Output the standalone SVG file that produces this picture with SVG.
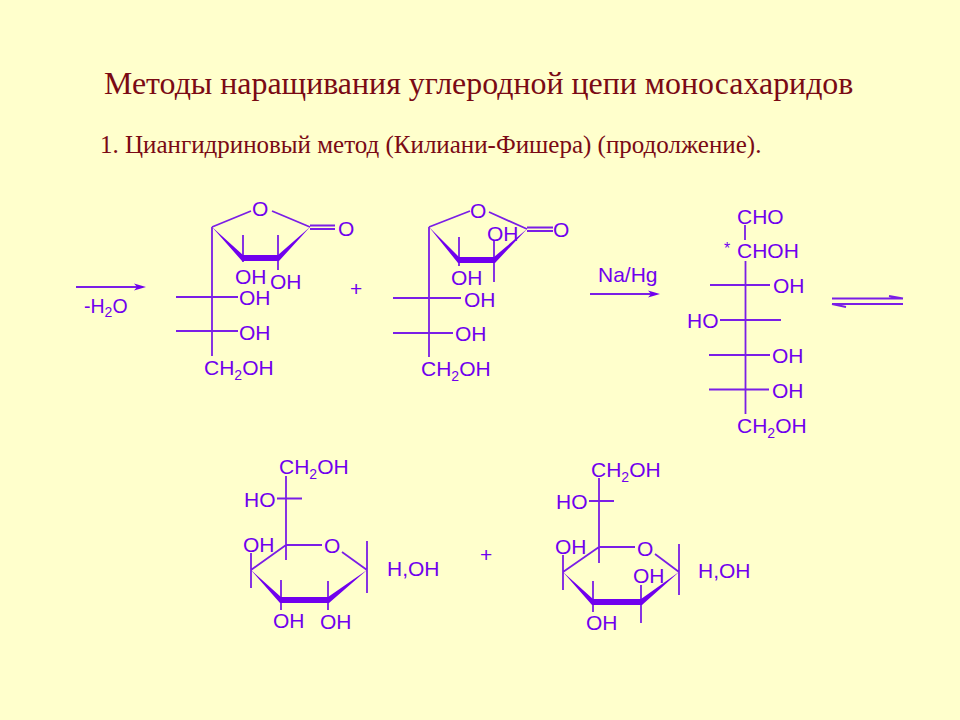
<svg xmlns="http://www.w3.org/2000/svg" width="960" height="720" viewBox="0 0 960 720">
<style>
.t{font-family:"Liberation Serif",serif;fill:#7a0a14}
.c{font-family:"Liberation Sans",Arial,sans-serif;font-size:21px;fill:#7000ee}
.b{stroke:#7a1ee6;stroke-width:1.8;fill:none}
.w{fill:#7000ee}
.s{font-size:14px}
.p{font-size:21px}
</style>
<rect width="960" height="720" fill="#ffffcc"/>
<text class="t" x="104" y="94" font-size="31.900">Методы наращивания углеродной цепи моносахаридов</text>
<text class="t" x="100" y="153" font-size="25">1. Циангидриновый метод (Килиани-Фишера) (продолжение).</text>

<g id="connectors">
<path class="b" d="M76 287H140"/><path class="w" d="M146 287l-12-3.500 3 3.500-3 3.500z"/>
<path class="b" d="M590 294H654"/><path class="w" d="M660 294l-12-3.500 3 3.500-3 3.500z"/>
<path class="b" d="M832 298.500H903M889 296L903 298.500M832 304H903M832 304L846 307"/>
</g>

<g id="lactone1">
<path class="b" d="M212 227V356M176 297H238M176 331H238M212 227L251 211M272 211L310 227M310 225.500H335M310 229H335M243 235V262M278 235V270"/>
<path class="w" d="M212 227L243 255H278L310 227L279 261H242Z"/>
<text class="c" x="235" y="284">OH</text><text class="c" x="270" y="289">OH</text><text class="c" x="239" y="305">OH</text><text class="c" x="239" y="340">OH</text>
<text class="c" x="252" y="216">O</text><text class="c" x="338" y="236">O</text>
<text class="c" x="204" y="375">CH<tspan class="s" dy="5">2</tspan><tspan dy="-5">OH</tspan></text>
</g>

<text id="plus1" class="c" x="350" y="296">+</text>

<g id="lactone2">
<path class="b" d="M429 227V357M393 298H461M393 333H453M429 227L470 211M489 212L527 229M527 227.500H553M527 231H553M459 237V266M494 240V282"/>
<path class="w" d="M429 227L459 257H494L527 229L495 263H458Z"/>
<text class="c" x="487" y="241">OH</text><text class="c" x="451" y="285">OH</text><text class="c" x="464" y="307">OH</text><text class="c" x="455" y="341">OH</text>
<text class="c" x="470" y="218">O</text><text class="c" x="553" y="237">O</text>
<text class="c" x="421" y="376">CH<tspan class="s" dy="5">2</tspan><tspan dy="-5">OH</tspan></text>
</g>

<text id="minusH2O" class="c" x="84" y="313" style="font-size:19.500px">-H<tspan class="s" dy="4">2</tspan><tspan dy="-4">O</tspan></text>
<text id="NaHg" class="c" x="598" y="282">Na/Hg</text>

<g id="chain">
<path class="b" d="M745 225V240M745.500 261V414M710 285H770M720 320H781M709 355H770M709 389.500H769"/>
<text class="c" x="737" y="224">CHO</text>
<text class="c" x="724" y="254" style="font-size:16px">*</text>
<text class="c" x="737" y="258">CHOH</text>
<text class="c" x="773" y="293">OH</text><text class="c" x="687" y="328">HO</text><text class="c" x="772" y="363">OH</text><text class="c" x="772" y="398">OH</text>
<text class="c" x="737" y="433">CH<tspan class="s" dy="5">2</tspan><tspan dy="-5">OH</tspan></text>
</g>

<g id="pyranose1">
<path class="b" d="M286 476V560M277 498.500H302M286 545H322M342 552L367 570M367 541V593M286 545L251 570M251 553V588M281 580V610M328 581V610"/>
<path class="w" d="M251 570L281 597H328L367 570L329 603H280Z"/>
<text class="c" x="279" y="474">CH<tspan class="s" dy="5">2</tspan><tspan dy="-5">OH</tspan></text>
<text class="c" x="244" y="507">HO</text><text class="c" x="243" y="552">OH</text><text class="c" x="324" y="553">O</text>
<text class="c" x="387" y="576">H,OH</text><text class="c" x="273" y="628">OH</text><text class="c" x="320" y="629">OH</text>
</g>

<text id="plus2" class="c" x="480" y="562">+</text>

<g id="pyranose2">
<path class="b" d="M599 478V563M589 501H614M599 547H635M655 554L679 572M679 544V595M599 547L563 572M563 555V590M593 581V612M641 585V623"/>
<path class="w" d="M563 572L593 599H641L679 572L642 605H592Z"/>
<text class="c" x="591" y="477">CH<tspan class="s" dy="5">2</tspan><tspan dy="-5">OH</tspan></text>
<text class="c" x="556" y="509">HO</text><text class="c" x="555" y="554">OH</text><text class="c" x="637" y="556">O</text>
<text class="c" x="698" y="578">H,OH</text><text class="c" x="633" y="583">OH</text><text class="c" x="586" y="630">OH</text>
</g>
</svg>
